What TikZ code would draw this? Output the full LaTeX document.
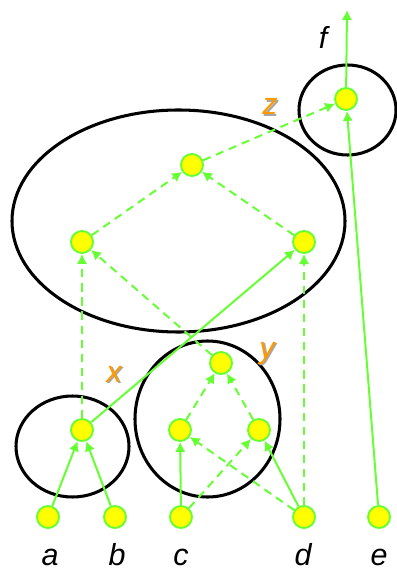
\documentclass[tikz,border=0pt]{standalone}
\usepackage{fontspec}
\setsansfont{Liberation Sans}
\usetikzlibrary{arrows.meta}
\definecolor{wiregreen}{RGB}{102,255,51}
\definecolor{gateyellow}{RGB}{255,255,0}
\definecolor{wireorange}{RGB}{255,153,0}

\tikzset{
  gate/.style={circle, draw=wiregreen, fill=gateyellow, line width=1.6pt, minimum size=0.66cm, inner sep=0pt},
  wire/.style={draw=wiregreen, line width=1.7pt, -{Latex[length=8.5pt,width=9pt]}},
  softwire/.style={wire, dash pattern=on 7pt off 5pt},
  blob/.style={draw=black, line width=2.6pt},
  varname/.style={font=\sffamily\itshape\fontsize{26}{30}\selectfont, inner sep=0pt, anchor=base},
  wirename/.style={varname, text=wireorange},
  wireshade/.style={varname, text=black!35}
}

\begin{document}
\begin{tikzpicture}[x=0.03cm, y=-0.03cm]
            \useasboundingbox (0,0) rectangle (396,570);

            % groupings
            \draw[blob] (72.5,446.5) ellipse (56.5 and 50.5);
            \draw[blob] (207.5,419) ellipse (72.5 and 78);
            \draw[blob] (178.5,221) ellipse (166.5 and 111);
            \draw[blob] (347.5,110) ellipse (48.5 and 45);

            % inputs
            \node[gate] (a) at (48,517) {};
            \node[gate] (b) at (115,517) {};
            \node[gate] (c) at (181,517) {};
            \node[gate] (d) at (304,517) {};
            \node[gate] (e) at (379,517) {};

            % inner gates
            \node[gate] (gx) at (82,430) {};
            \node[gate] (gc) at (180,430) {};
            \node[gate] (gd) at (259,430) {};
            \node[gate] (gy) at (221,363) {};
            \node[gate] (gl) at (82,242) {};
            \node[gate] (gr) at (304,242) {};
            \node[gate] (gt) at (192,165) {};
            \node[gate] (gf) at (346,99) {};
            \coordinate (out) at (347,10);

            % solid wires
            \draw[wire] (a) -- (gx);
            \draw[wire] (b) -- (gx);
            \draw[wire] (gx) -- (gr);
            \draw[wire] (c) -- (gc);
            \draw[wire] (d) -- (gd);
            \draw[wire] (e) -- (gf);
            \draw[wire] (gf) -- (out);

            % dashed wires
            \draw[softwire] (gx) -- (gl);
            \draw[softwire] (c) -- (gd);
            \draw[softwire] (d) -- (gc);
            \draw[softwire] (d) -- (gr);
            \draw[softwire] (gc) -- (gy);
            \draw[softwire] (gd) -- (gy);
            \draw[softwire] (gy) -- (gl);
            \draw[softwire] (gl) -- (gt);
            \draw[softwire] (gr) -- (gt);
            \draw[softwire] (gt) -- (gf);

            % names
            \node[varname] (la) at (50,565) {a};
            \node[varname] (lb) at (117,565) {b};
            \node[varname] (lc) at (181,565) {c};
            \node[varname] (ld) at (303,565) {d};
            \node[varname] (le) at (379,565) {e};
            \node[varname] (lf) at (323,49) {f};
            \node[wireshade] (xshade) at (115.5,383.5) {x};
            \node[wirename] (lx) at (114,382) {x};
            \node[wireshade] (yshade) at (268.5,359.5) {y};
            \node[wirename] (ly) at (267,358) {y};
            \node[wireshade] (zshade) at (271.5,116.5) {z};
            \node[wirename] (lz) at (270,115) {z};
        \end{tikzpicture}
\end{document}
